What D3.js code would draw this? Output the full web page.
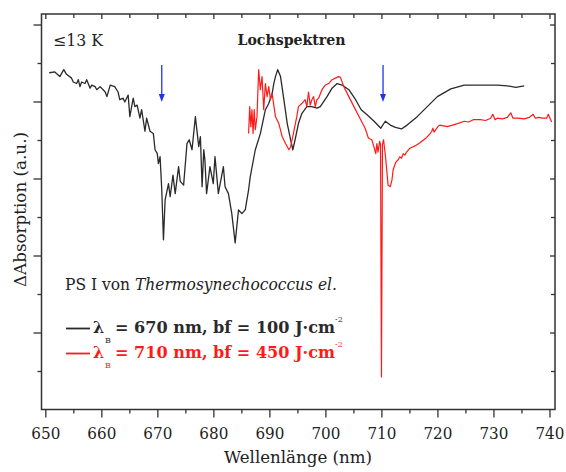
<!DOCTYPE html>
<html><head><meta charset="utf-8">
<script src="https://cdn.jsdelivr.net/npm/d3@7"></script>
<style>body{margin:0;background:#fff}svg{display:block}text{font-family:"DejaVu Serif",serif;fill:#222}</style>
</head><body>
<svg id="c" width="566" height="472"></svg>
<script>
const blackNm=[650.6,651.6,652.5,653.2,653.7,654.6,654.9,655.5,655.8,656.1,656.4,657.0,657.3,657.9,658.2,658.8,659.1,659.7,660.6,660.9,661.5,662.3,662.9,663.2,663.8,664.1,664.7,665.0,665.6,665.9,666.3,666.8,667.1,667.7,668.0,668.6,669.2,669.5,669.9,670.1,670.4,670.7,671.0,671.3,671.9,672.2,672.7,673.1,673.7,674.0,674.6,675.2,675.6,676.1,676.7,677.3,677.6,677.9,678.2,678.4,678.7,679.3,679.9,680.2,680.8,681.7,682.0,682.6,683.2,683.8,684.4,685.0,685.6,686.2,686.5,687.4,688.3,689.2,689.8,690.4,690.7,691.0,691.4,691.9,692.5,693.1,693.7,694.1,694.5,695.1,695.7,696.6,697.5,698.4,699.0,700.2,701.1,702.0,702.9,704.1,705.3,706.3,707.4,708.6,709.8,710.6,711.5,712.4,713.5,714.5,716.3,718.1,719.9,722.3,724.7,727.6,730.6,732.4,733.9,735.4];
const blackVal=[4.38,4.39,4.33,4.42,4.36,4.31,4.26,4.24,4.29,4.20,4.26,4.24,4.29,4.18,4.22,4.20,4.16,4.20,4.13,4.07,4.22,4.20,4.13,4.03,4.05,4.00,4.09,3.81,4.05,3.94,3.96,3.79,3.90,3.62,3.79,3.62,3.59,3.38,3.33,3.20,3.29,2.86,2.21,2.73,2.94,2.77,3.05,2.81,3.16,2.97,2.92,3.46,3.51,3.38,3.81,3.42,3.55,2.90,3.38,3.25,2.81,3.16,2.94,3.29,2.81,3.16,2.90,2.81,2.55,2.17,2.60,2.55,2.60,2.86,3.03,3.38,3.59,3.90,3.98,4.11,4.24,4.33,4.42,4.33,4.03,3.72,3.51,3.38,3.51,3.72,3.85,3.94,3.94,3.92,3.94,4.07,4.18,4.24,4.22,4.16,4.03,3.90,3.83,3.75,3.66,3.75,3.70,3.67,3.65,3.70,3.81,3.94,4.07,4.17,4.22,4.22,4.22,4.21,4.19,4.21];
const redNm=[686.2,686.4,686.6,686.8,687.0,687.2,687.4,687.7,688.0,688.3,688.6,688.9,689.2,689.5,689.8,690.1,690.4,691.0,691.6,692.2,692.8,693.4,693.7,694.2,694.8,695.1,695.7,696.3,696.6,696.9,697.2,697.5,697.8,698.1,698.4,698.7,699.3,699.9,700.5,701.1,701.7,702.3,702.6,703.2,704.1,705.0,706.0,707.0,707.6,708.2,708.6,708.9,709.1,709.3,709.6,709.75,709.92,710.1,710.3,710.7,711.1,711.5,711.8,712.0,712.5,712.9,713.2,713.5,713.8,714.1,714.4,715.0,715.9,716.8,718.0,718.6,718.9,719.1,719.3,720.0,720.3,721.7,723.5,724.7,725.5,726.3,727.6,728.5,729.4,729.8,730.2,730.6,731.5,732.4,733.0,733.4,734.3,735.4,736.3,737.0,737.4,738.0,738.6,739.4,739.7,740.0,740.3];
const redVal=[3.59,3.94,3.68,3.90,3.59,3.90,3.64,3.81,4.42,4.16,4.33,3.90,4.24,4.07,4.20,4.03,4.11,3.81,3.72,3.55,3.46,3.38,3.42,3.59,3.81,3.94,3.98,4.03,3.94,4.13,3.96,4.03,4.07,3.94,4.03,4.05,4.16,4.22,4.24,4.29,4.31,4.33,4.32,4.20,4.07,3.94,3.80,3.66,3.53,3.51,3.41,3.33,3.46,3.35,3.49,3.45,0.43,3.45,3.51,3.25,2.92,2.90,2.99,3.12,3.22,3.25,3.29,3.27,3.33,3.31,3.35,3.40,3.43,3.47,3.54,3.59,3.62,3.66,3.61,3.68,3.70,3.68,3.72,3.75,3.74,3.77,3.77,3.76,3.79,3.84,3.77,3.79,3.78,3.80,3.86,3.79,3.79,3.78,3.80,3.84,3.79,3.80,3.79,3.79,3.84,3.79,3.74];
const arrowNm=[670.7,710.2];
const arrowTop=4.48, arrowTip=4.0;
const xTickLabels=[650,660,670,680,690,700,710,720,730,740];
const xMinor=[655,665,675,685,695,705,715,725,735];
const yMajor=[1,2,3,4,5];
const yMinor=[0.5,1.5,2.5,3.5,4.5];

const svg=d3.select("#c");
const L=41.5,R=555,T=14,B=409.5;
const x=d3.scaleLinear().domain([649.23,740.9]).range([L,R]);
const y=d3.scaleLinear().domain([0,5.143]).range([410,T]);
const line=d3.line().x(d=>x(d[0])).y(d=>y(d[1]));

svg.append("path").datum(blackNm.map((n,i)=>[n,blackVal[i]])).attr("d",line)
  .attr("fill","none").attr("stroke","#2a2a2a").attr("stroke-width",1.3).attr("stroke-linejoin","round");
svg.append("path").datum(redNm.map((n,i)=>[n,redVal[i]])).attr("d",line)
  .attr("fill","none").attr("stroke","#ff1a1a").attr("stroke-width",1.2).attr("stroke-linejoin","round");

arrowNm.forEach(n=>{
  const ax=x(n);
  svg.append("line").attr("x1",ax).attr("x2",ax).attr("y1",y(arrowTop)).attr("y2",y(arrowTip)-6)
    .attr("stroke","#2233ee").attr("stroke-width",1.3);
  svg.append("path").attr("d",`M${ax-3},${y(arrowTip)-8}L${ax+3},${y(arrowTip)-8}L${ax},${y(arrowTip)}Z`).attr("fill","#2233ee");
});

svg.append("rect").attr("x",L).attr("y",T).attr("width",R-L).attr("height",B-T)
  .attr("fill","none").attr("stroke","#333").attr("stroke-width",1.5);
const g=svg.append("g").attr("stroke","#333").attr("stroke-width",1.3);
xTickLabels.forEach(v=>{g.append("line").attr("x1",x(v)).attr("x2",x(v)).attr("y1",B).attr("y2",B+8);
  g.append("line").attr("x1",x(v)).attr("x2",x(v)).attr("y1",T).attr("y2",T+5);});
xMinor.forEach(v=>{g.append("line").attr("x1",x(v)).attr("x2",x(v)).attr("y1",B).attr("y2",B+4);
  g.append("line").attr("x1",x(v)).attr("x2",x(v)).attr("y1",T).attr("y2",T+4);});
yMajor.forEach(v=>{g.append("line").attr("y1",y(v)).attr("y2",y(v)).attr("x1",L).attr("x2",L-8);
  g.append("line").attr("y1",y(v)).attr("y2",y(v)).attr("x1",R).attr("x2",R-5);});
yMinor.forEach(v=>{g.append("line").attr("y1",y(v)).attr("y2",y(v)).attr("x1",L).attr("x2",L-4);
  g.append("line").attr("y1",y(v)).attr("y2",y(v)).attr("x1",R).attr("x2",R-4);});

svg.append("g").selectAll("text").data(xTickLabels).join("text")
  .attr("x",d=>x(d)).attr("y",438.5).attr("text-anchor","middle").attr("font-size",16)
  .attr("textLength",29).attr("lengthAdjust","spacingAndGlyphs").text(d=>d);

svg.append("text").attr("x",298).attr("y",463).attr("text-anchor","middle").attr("font-size",16)
  .attr("textLength",148).attr("lengthAdjust","spacingAndGlyphs").text("Wellenlänge (nm)");
svg.append("text").attr("transform","translate(26,209.5) rotate(-90)").attr("text-anchor","middle").attr("font-size",16)
  .attr("textLength",155).attr("lengthAdjust","spacingAndGlyphs").text("ΔAbsorption (a.u.)");
svg.append("text").attr("x",53).attr("y",46).attr("font-size",16)
  .attr("textLength",50).attr("lengthAdjust","spacingAndGlyphs").text("≤13 K");
svg.append("text").attr("x",237.5).attr("y",45).attr("font-size",15.5).attr("font-weight","bold")
  .attr("textLength",108).attr("lengthAdjust","spacingAndGlyphs").text("Lochspektren");

const t=svg.append("text").attr("x",65).attr("y",290).attr("font-size",16)
  .attr("textLength",272).attr("lengthAdjust","spacingAndGlyphs");
t.append("tspan").text("PS I von ");
t.append("tspan").attr("font-style","italic").text("Thermosynechococcus el.");

const legend=[{c:"#2a2a2a",s:"= 670 nm, bf = 100 J·cm",y:333},{c:"#ff1a1a",s:"= 710 nm, bf = 450 J·cm",y:358}];
legend.forEach(l=>{
  svg.append("line").attr("x1",66).attr("x2",90).attr("y1",l.y-4.5).attr("y2",l.y-4.5).attr("stroke",l.c).attr("stroke-width",1.8);
  svg.append("text").attr("x",93).attr("y",l.y).attr("font-size",16).attr("font-weight","bold").style("fill",l.c).text("λ");
  svg.append("text").attr("x",105).attr("y",l.y+10).attr("font-size",8).style("fill",l.c).text("B");
  svg.append("text").attr("x",115).attr("y",l.y).attr("font-size",16).attr("font-weight","bold").style("fill",l.c)
    .attr("textLength",220).attr("lengthAdjust","spacingAndGlyphs").text(l.s);
  svg.append("text").attr("x",335).attr("y",l.y-11).attr("font-size",8).style("fill",l.c).text("-2");
});
</script>
</body></html>
